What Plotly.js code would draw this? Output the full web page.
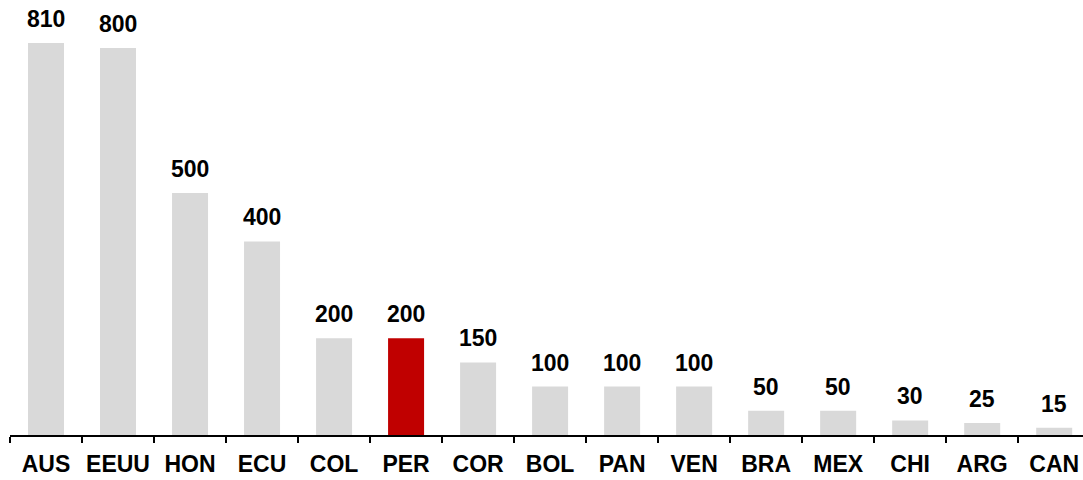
<!DOCTYPE html>
<html>
<head>
<meta charset="utf-8">
<script src="https://cdn.plot.ly/plotly-3.0.1.min.js"></script>
<style>
  html, body { margin: 0; padding: 0; background: #ffffff; }
  #chart { width: 1083px; height: 480px; }
</style>
</head>
<body>
<div id="chart"></div>
<script>
// Country codes and values, sorted from largest to smallest
const countries = ['AUS', 'EEUU', 'HON', 'ECU', 'COL', 'PER', 'COR', 'BOL', 'PAN', 'VEN', 'BRA', 'MEX', 'CHI', 'ARG', 'CAN'];
const values = [810, 800, 500, 400, 200, 200, 150, 100, 100, 100, 50, 50, 30, 25, 15];
const highlight = 'PER';

const grey = '#d9d9d9';
const red = '#c00000';
const barColors = countries.map(c => c === highlight ? red : grey);

const font = 'Arial, "Liberation Sans", sans-serif';

const trace = {
  type: 'bar',
  x: countries,
  y: values,
  marker: { color: barColors, line: { width: 0 } },
  width: 0.5,
  hoverinfo: 'x+y'
};

// Value labels above each bar
const annotations = countries.map((c, i) => ({
  x: c,
  y: values[i],
  xref: 'x',
  yref: 'y',
  text: String(values[i]),
  showarrow: false,
  yanchor: 'bottom',
  yshift: 9,
  font: { family: font, size: 23, color: '#000000', weight: 'bold' }
}));

const layout = {
  width: 1083,
  height: 480,
  margin: { l: 10, r: 0, t: 0, b: 45 },
  paper_bgcolor: '#ffffff',
  plot_bgcolor: '#ffffff',
  showlegend: false,
  bargap: 0.5,
  xaxis: {
    type: 'category',
    range: [-0.5, 14.4],
    showline: true,
    linecolor: '#000000',
    linewidth: 1.5,
    ticks: 'outside',
    tickson: 'boundaries',
    ticklen: 6,
    tickwidth: 1.5,
    tickcolor: '#000000',
    tickangle: 0,
    ticklabelstandoff: 8,
    showgrid: false,
    zeroline: false,
    tickfont: { family: font, size: 23, color: '#000000', weight: 'bold' }
  },
  yaxis: {
    range: [0, 899],
    visible: false,
    showgrid: false,
    zeroline: false
  },
  annotations: annotations
};

Plotly.newPlot('chart', [trace], layout, { displayModeBar: false, staticPlot: true });
</script>
</body>
</html>
